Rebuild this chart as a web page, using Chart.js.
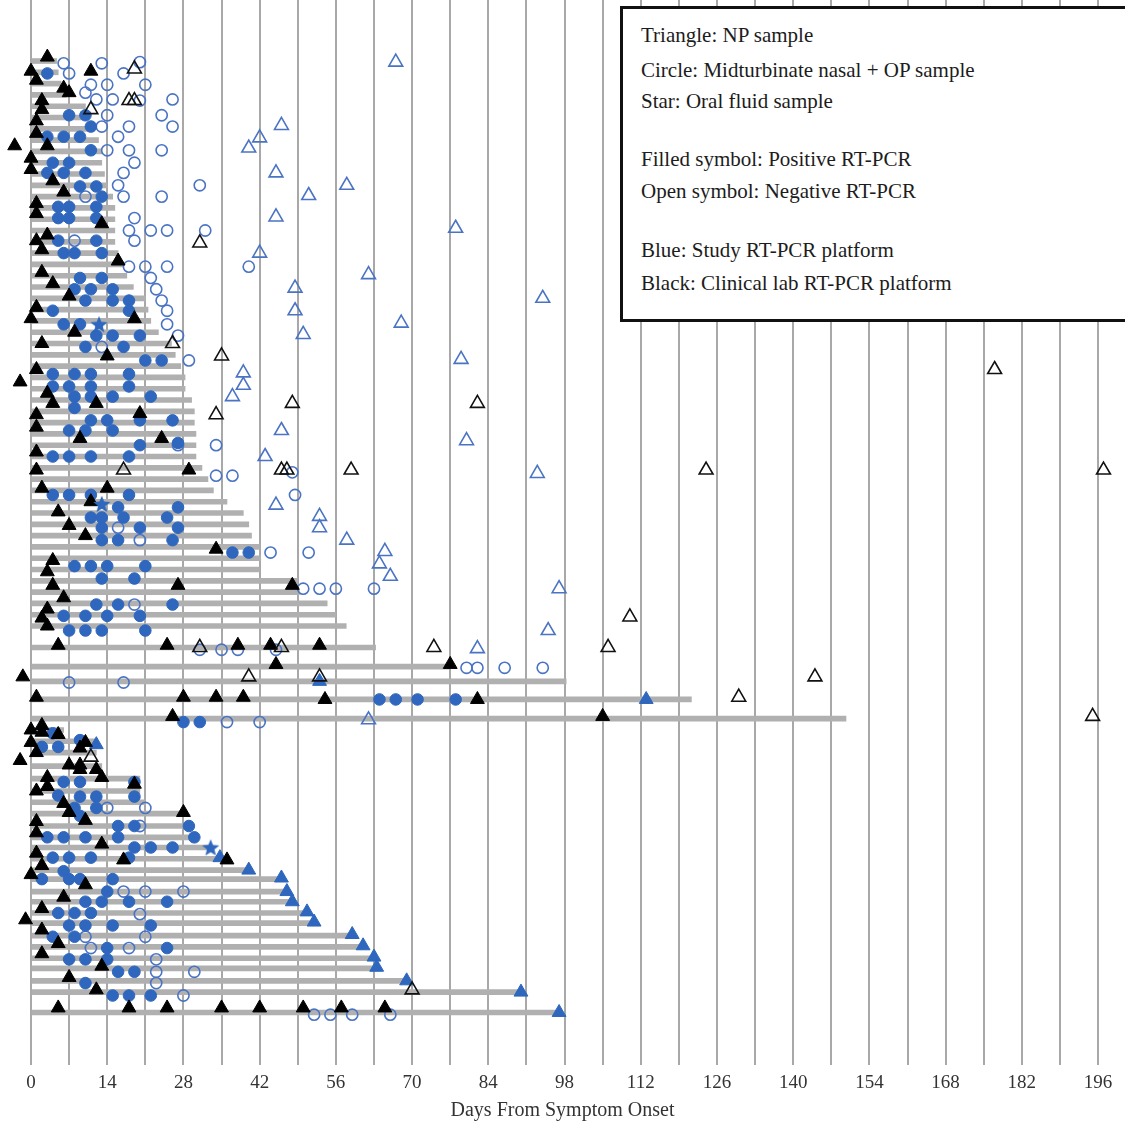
<!DOCTYPE html>
<html>
<head>
<meta charset="utf-8">
<title>Days From Symptom Onset</title>
<script src="https://cdn.jsdelivr.net/npm/chart.js@4.4.1/dist/chart.umd.min.js"></script>
<style>
  body { margin: 0; background: #fff; }
  #wrap { position: relative; width: 1125px; height: 1126px; }
  #key {
    position: absolute; left: 620px; top: 6px; width: 520px; height: 310px;
    border: 3px solid #111; background: #fff;
    font-family: "Liberation Serif", "DejaVu Serif", serif; font-size: 21px; color: #1c1c1c;
  }
  #key div { position: absolute; left: 18px; line-height: 24px; white-space: nowrap; }
</style>
</head>
<body>
<div id="wrap">
  <canvas id="onsetChart"></canvas>
  <div id="key">
    <div style="top:14px">Triangle: NP sample</div>
    <div style="top:49px">Circle: Midturbinate nasal + OP sample</div>
    <div style="top:80px">Star: Oral fluid sample</div>
    <div style="top:138px">Filled symbol: Positive RT-PCR</div>
    <div style="top:170px">Open symbol: Negative RT-PCR</div>
    <div style="top:229px">Blue: Study RT-PCR platform</div>
    <div style="top:262px">Black: Clinical lab RT-PCR platform</div>
  </div>
</div>
<script>
// x axis: grid every 7 days, labels every 14
const gridDays = [0, 7, 14, 21, 28, 35, 42, 49, 56, 63, 70, 77, 84, 91, 98, 105, 112, 119, 126, 133, 140, 147, 154, 161, 168, 175, 182, 189, 196];
const tickLabels = [0, 14, 28, 42, 56, 70, 84, 98, 112, 126, 140, 154, 168, 182, 196];

// one gray bar per patient: row position and last day of follow-up
const barRows = [0, 1, 2, 3, 4, 5, 6, 7, 8, 9, 10, 11, 12, 13, 14, 15, 16, 17, 18, 19, 20, 21, 22, 23, 24, 25,
  26, 27, 28, 29, 30, 31, 32, 33, 34, 35, 36, 37, 38, 39, 40, 41, 42, 43, 44, 45, 46, 47, 48, 49, 50,
  51.9, 53.6, 54.9, 56.5, 58.2,
  59.2, 60.2, 61.2, 62.4, 63.5, 64.6, 65.6, 66.6, 67.7, 68.7, 69.6, 70.6, 71.6, 72.4, 73.5, 74.4, 75.4,
  76.3, 77.4, 78.4, 79.4, 80.3, 81.4, 82.4, 84.2];
const barEnds = [4.7, 5, 5.5, 6.5, 10, 10, 11, 12.4, 13, 13, 13.5, 14, 15, 15.4, 15.4, 15.4, 15.4, 16, 17, 17.6,
  18.8, 21, 21.5, 22, 23.4, 25.8, 26.5, 27.5, 28.3, 28.3, 29.5, 30, 30, 30.3, 30.3, 30.3, 31.4, 32.5, 33.5, 36,
  39, 40, 40.5, 42, 42.2, 42, 49, 49.3, 54.4, 56, 57.9,
  63.3, 77, 98.3, 121.3, 149.7,
  6, 12, 12, 13, 20, 20, 21, 28, 29, 30, 33, 36, 40, 46, 47, 48, 50.7, 52, 59, 61, 63, 63.5, 69, 90, 97];

// [day, row] for each sample
const clinPosNP = [[3,-0.35],[0,0.9],[11,0.9],[1,1.7],[6,2.4],[7,2.8],[2,3.5],[2,4.3],[1,5.3],[1,6.4],[-3,7.5],[3,7.5],
  [0,8.6],[0,9.6],[4,10.6],[6,11.6],[1,12.6],[1,13.5],[13,14.4],[3,15.4],[1,15.9],[2,16.7],[16,17.7],[2,18.7],[4,19.7],
  [7,20.8],[1,21.8],[0,22.8],[19,22.8],[8,24.0],[2,25.0],[14,26.1],[1,27.3],[-2,28.4],[3,29.4],[4,30.3],[12,30.3],[1,31.3],
  [20,31.2],[1,32.4],[9,33.4],[24,33.4],[1,34.6],[1,36.2],[29,36.2],[2,37.8],[14,37.8],[11,39.0],[5,39.9],[7,41.1],[10,42.0],
  [34,43.2],[4,44.2],[3,45.2],[4,46.4],[27,46.4],[48,46.4],[6,47.5],[3,48.5],[2,49.3],[3,50.0],[5,51.7],[25,51.7],[38,51.7],
  [44,51.7],[53,51.7],[45,53.4],[77,53.4],[-1.5,54.5],[1,56.3],[28,56.3],[34,56.3],[39,56.3],[54,56.5],[82,56.5],[26,58.0],[105,58.0],
  [0,59.2],[2,58.8],[2,59.4],[5,59.6],[0,60.3],[10,60.3],[9,60.8],[-2,61.9],[1,61.2],[7,62.3],[9,62.3],[9,62.7],[12,62.7],
  [13,63.4],[3,63.4],[19,64.0],[3,64.2],[1,64.6],[6,65.7],[7,66.5],[10,67.2],[28,66.5],[1,67.3],[1,68.3],[13,69.3],[1,70.1],
  [17,70.7],[36,70.7],[2,71.2],[0,72.0],[10,72.9],[6,74.0],[2,75.0],[-1,76.0],[2,76.9],[5,78.1],[2,79.0],[13,80.1],[7,81.1],
  [12,82.2],[5,83.8],[18,83.8],[25,83.8],[35,83.8],[42,83.8],[50,83.8],[57,83.8],[65,83.8]];
const clinNegNP = [[19,0.7],[18,3.5],[19,3.5],[11,4.3],[31,16.1],[26,25.0],[35,26.1],[177,27.3],[48,30.3],[82,30.3],[34,31.3],
  [17,36.2],[46,36.2],[47,36.2],[58.8,36.2],[124,36.2],[197,36.2],[110,49.2],[31,51.9],[46,51.9],[74,51.9],[106,51.9],
  [40,54.5],[53,54.5],[144,54.5],[130,56.3],[195,58.0],[11,61.6],[70,82.2]];
const studyPosNP = [[53,54.9],[113,56.5],[12,60.5],[34.7,70.5],[40,71.6],[46,72.3],[47,73.5],[48,74.4],[50.7,75.3],[52,76.2],
  [59,77.3],[61,78.3],[63,79.3],[63.5,80.2],[69,81.4],[90,82.4],[97,84.2]];
const studyNegNP = [[67,0.1],[46,5.7],[42,6.8],[40,7.7],[45,9.9],[58,11.0],[51,11.9],[45,13.8],[78,14.8],[42,17.0],[62,18.9],
  [48.5,20.1],[94,21.0],[48.5,22.1],[68,23.2],[50,24.2],[79,26.4],[39,27.6],[39,28.7],[37,29.7],[46,32.7],[80,33.6],[43,35.0],
  [93,36.5],[45,39.3],[53,40.3],[53,41.3],[58,42.4],[65,43.4],[64,44.5],[66,45.6],[97,46.7],[95,50.4],[82,52.0],[62,58.3]];
const studyPosMT = [[3,1.1],[7,4.8],[10,4.8],[11,5.8],[3,6.7],[6,6.7],[9,6.7],[11,7.9],[4,9.0],[7,9.0],[3,9.9],[6,9.9],[10,9.9],
  [9,11.1],[12,11.1],[13,12.0],[5,12.9],[7,12.9],[12,12.9],[5,13.9],[7,13.9],[12,13.9],[5,15.9],[12,15.9],[6,17.0],[8,17.0],
  [13,17.0],[9,19.2],[13,19.2],[8,20.2],[11,20.2],[15,20.2],[10,21.2],[15,21.2],[18,21.2],[4,22.1],[18,22.1],[6,23.3],[9,23.3],
  [12,24.3],[15,24.3],[20,24.3],[10,25.3],[17,25.3],[21,26.5],[24,26.5],[4,27.7],[8,27.7],[11,27.7],[18,27.7],[4,28.8],[7,28.8],
  [11,28.8],[18,28.8],[8,29.7],[11,29.7],[15,29.7],[22,29.7],[8,30.7],[11,31.8],[14,31.8],[20,31.8],[26,31.8],[7,32.7],[10,32.7],
  [15,32.7],[20,34.0],[27,33.8],[4,35.0],[7,35.0],[11,35.0],[18,35.0],[4,38.4],[7,38.4],[11,38.4],[18,38.4],[16,39.5],[27,39.5],
  [11,40.4],[13,40.4],[17,40.4],[25,40.4],[13,41.3],[20,41.3],[27,41.3],[13,42.4],[16,42.4],[26,42.4],[37,43.5],[40,43.5],
  [8,44.7],[11,44.7],[14,44.7],[21,44.7],[13,45.8],[19,45.8],[12,48.1],[16,48.1],[26,48.1],[6,49.1],[10,49.1],[14,49.1],[20,49.1],
  [7,50.4],[10,50.4],[13,50.4],[21,50.4],[64,56.5],[67,56.5],[71,56.5],[78,56.5],[28,58.5],[31,58.5],
  [4,59.5],[2,60.7],[5,60.7],[9,60.1],[6,63.8],[9,63.8],[19,63.8],[5,65.0],[9,65.1],[12,65.1],[19,65.1],[8,66.1],[12,66.1],
  [9,66.8],[16,67.7],[19,67.7],[29,67.7],[3,68.7],[6,68.7],[10,68.7],[16,68.7],[30,68.7],[19,69.6],[22,69.6],[26,69.6],[4,70.5],
  [7,70.5],[11,70.5],[18,70.5],[6,71.7],[2,72.4],[7,72.4],[9,72.4],[15,72.4],[14,73.5],[10,74.4],[13,74.4],[18,74.4],[25,74.4],
  [5,75.4],[8,75.4],[11,75.4],[7,76.5],[10,76.5],[15,76.5],[22,76.5],[4,77.5],[8,77.5],[14,78.5],[25,78.5],[7,79.5],[10,79.5],
  [14,79.5],[16,80.6],[19,80.6],[10,81.6],[15,82.7],[18,82.7],[22,82.7]];
const studyNegMT = [[6,0.2],[13,0.2],[20,0.1],[7,1.1],[17,1.1],[11,2.1],[14,2.1],[21,2.1],[10,2.8],[12,3.4],[15,3.4],[26,3.4],
  [20,3.5],[14,4.8],[24,4.8],[13,5.8],[18,5.8],[26,5.8],[16,6.7],[14,7.9],[18,7.9],[24,7.9],[19,9.0],[17,9.9],[16,11.0],[31,11.0],
  [10,12.0],[17,12.0],[24,12.0],[19,13.9],[18,15.0],[22,15.0],[25,15.0],[32,15.0],[8,15.9],[19,15.9],[18,18.2],[21,18.2],
  [25,18.2],[40,18.2],[22,19.2],[23,20.2],[24,21.2],[25,22.1],[25,23.3],[27,24.3],[13,25.3],[29,26.5],[27,34.0],[34,34.0],
  [34,36.7],[37,36.7],[48,36.4],[48.5,38.4],[16,41.3],[20,42.4],[44,43.5],[51,43.5],[19,48.1],[50,46.7],[53,46.7],[56,46.7],
  [63,46.7],[31,52.1],[35,52.1],[38,52.1],[45,52.1],[80,53.7],[82,53.7],[87,53.7],[94,53.7],[7,55.0],[17,55.0],[36,58.5],[42,58.5],
  [14,66.1],[21,66.1],[20,67.7],[17,73.5],[21,73.5],[28,73.5],[20,75.5],[10,77.5],[21,77.5],[11,78.5],[18,78.5],[23,79.5],
  [23,80.6],[30,80.6],[23,81.6],[28,82.7],[52,84.4],[55,84.4],[59,84.4],[66,84.4]];
const studyPosOral = [[12.5,23.3],[13,39.2],[33,69.6]];

const BLUE = "#2e67bd";
const BLUE_LINE = "#4a74c3";
const SERIF = "'Liberation Serif', 'DejaVu Serif', serif";

// filled five-point star for oral fluid samples
function makeStar(size, color) {
    const c = document.createElement("canvas");
    c.width = size;
    c.height = size;
    const g = c.getContext("2d");
    g.beginPath();
    for (let i = 0; i < 10; i++) {
        const r = i % 2 ? size * 0.22 : size * 0.5;
        const a = -Math.PI / 2 + i * Math.PI / 5;
        g.lineTo(size / 2 + r * Math.cos(a), size * 0.54 + r * Math.sin(a));
    }
    g.closePath();
    g.fillStyle = color;
    g.fill();
    return c;
}

const toPoints = arr => arr.map(([x, y]) => ({ x, y }));

function markers(arr, style, radius, fill, line, width, order) {
    return {
        type: "scatter",
        data: toPoints(arr),
        pointStyle: style,
        pointRadius: radius,
        pointHoverRadius: radius,
        backgroundColor: fill,
        borderColor: line,
        borderWidth: width,
        order: order
    };
}

const ctx = document.getElementById("onsetChart").getContext("2d");
new Chart(ctx, {
    type: "scatter",
    data: {
        datasets: [
            {
                type: "bar",
                indexAxis: "y",
                data: barRows.map((r, i) => ({ y: r, x: [0, barEnds[i]] })),
                backgroundColor: "#b0b0b0",
                barThickness: 5,
                grouped: false,
                order: 10
            },
            markers(studyNegMT, "circle", 5.6, "rgba(255,255,255,0)", BLUE_LINE, 1.6, 5),
            markers(studyPosMT, "circle", 5.8, BLUE, BLUE, 1, 4),
            markers(studyNegNP, "triangle", 8, "rgba(255,255,255,0)", BLUE_LINE, 1.6, 3),
            markers(studyPosNP, "triangle", 8, BLUE, BLUE, 1, 3),
            markers(clinNegNP, "triangle", 8, "rgba(255,255,255,0)", "#111", 1.6, 2),
            markers(clinPosNP, "triangle", 8, "#000", "#000", 1, 2),
            markers(studyPosOral, makeStar(18, BLUE), 8, BLUE, BLUE, 0, 1)
        ]
    },
    options: {
        responsive: true,
        maintainAspectRatio: false,
        animation: false,
        events: [],
        layout: { padding: 0, autoPadding: false },
        plugins: {
            legend: { display: false },
            tooltip: { enabled: false }
        },
        scales: {
            x: {
                type: "linear",
                offset: false,
                min: -5.694,
                max: 200.95,
                afterBuildTicks: axis => { axis.ticks = gridDays.map(v => ({ value: v })); },
                afterFit: axis => { axis.height = 61; },
                ticks: {
                    autoSkip: false,
                    maxRotation: 0,
                    padding: 7,
                    color: "#333",
                    font: { family: SERIF, size: 19 },
                    callback: v => tickLabels.includes(v) ? String(v) : ""
                },
                grid: { color: "#a8a8a8", lineWidth: 2, drawTicks: false, offset: false },
                border: { display: false },
                title: {
                    display: true,
                    text: "Days From Symptom Onset",
                    color: "#333",
                    font: { family: SERIF, size: 20 },
                    padding: { top: 0, bottom: 3 }
                }
            },
            y: {
                type: "linear",
                reverse: true,
                offset: false,
                min: -5.4,
                max: 88.85,
                display: false,
                grid: { offset: false }
            }
        }
    }
});
</script>
</body>
</html>
